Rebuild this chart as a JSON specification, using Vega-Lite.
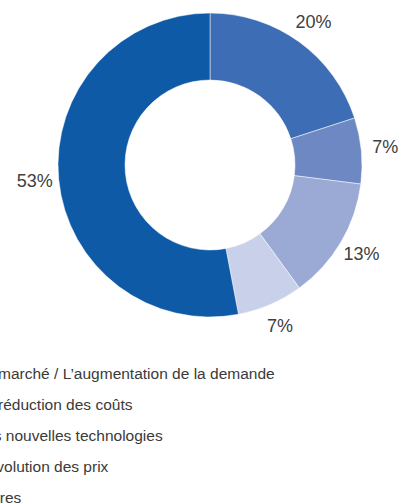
{
  "$schema": "https://vega.github.io/schema/vega-lite/v6.json",
  "width": 420,
  "height": 330,
  "padding": {"left": 0, "top": 0, "right": 0, "bottom": 173},
  "autosize": "none",
  "background": "white",
  "data": {
    "values": [
      {"rank": 1, "cat": "Le marché / L’augmentation de la demande", "share": 0.20},
      {"rank": 2, "cat": "La réduction des coûts", "share": 0.07},
      {"rank": 3, "cat": "Les nouvelles technologies", "share": 0.13},
      {"rank": 4, "cat": "L’évolution des prix", "share": 0.07},
      {"rank": 5, "cat": "Autres", "share": 0.53}
    ]
  },
  "encoding": {
    "theta": {"field": "share", "type": "quantitative", "stack": true},
    "order": {"field": "rank", "type": "quantitative"},
    "color": {
      "field": "cat",
      "type": "nominal",
      "sort": ["Le marché / L’augmentation de la demande", "La réduction des coûts", "Les nouvelles technologies", "L’évolution des prix", "Autres"],
      "scale": {
        "domain": ["Le marché / L’augmentation de la demande", "La réduction des coûts", "Les nouvelles technologies", "L’évolution des prix", "Autres"],
        "range": ["#3d6db5", "#6e88c4", "#9aaad5", "#c9d1ea", "#0e5aa7"]
      },
      "legend": {
        "title": null,
        "orient": "none",
        "direction": "vertical",
        "legendX": -46,
        "legendY": 366,
        "symbolType": "square",
        "symbolSize": 144,
        "labelOffset": 7,
        "labelFont": "Liberation Sans",
        "labelFontSize": 15.5,
        "labelColor": "#3a3a3a",
        "labelLimit": 0,
        "rowPadding": 12
      }
    }
  },
  "layer": [
    {
      "mark": {"type": "arc", "outerRadius": 152, "innerRadius": 85, "stroke": "#ffffff", "strokeWidth": 0.5}
    },
    {
      "mark": {"type": "text", "radius": 176, "font": "Liberation Sans", "fontSize": 18},
      "encoding": {
        "text": {"field": "share", "type": "quantitative", "format": ".0%"},
        "color": {"value": "#404040"}
      }
    }
  ],
  "config": {"view": {"stroke": null}}
}
